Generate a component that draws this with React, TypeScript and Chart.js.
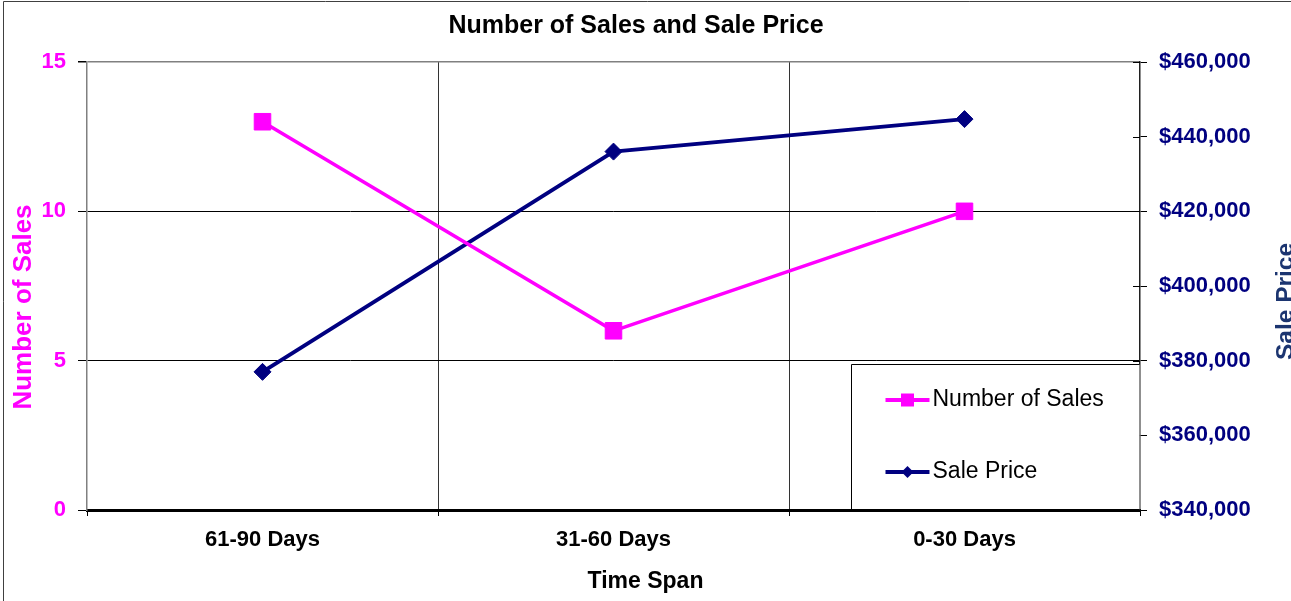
import React, { useEffect, useRef } from 'react';
import { Chart, registerables } from 'chart.js';

Chart.register(...registerables);

// ---- data ----
const categories = ['61-90 Days', '31-60 Days', '0-30 Days'];
const numberOfSales = [13, 6, 10];
const salePrice = [377000, 436000, 444700];
const salesAxisMin = 0;
const salesAxisMax = 15;
const salesAxisStep = 5;
const priceAxisMin = 340000;
const priceAxisMax = 460000;
const priceAxisStep = 20000;
const chartTitle = 'Number of Sales and Sale Price';
const xAxisTitle = 'Time Span';
const yAxisTitle = 'Number of Sales';
const y1AxisTitle = 'Sale Price';

const FONT = '"Liberation Sans", Arial, sans-serif';
const MAGENTA = '#FF00FF';
const NAVY = '#000080';
const NAVY_TITLE = '#1c3570';

const decorPlugin = {
  id: 'decor',
  afterDraw(chart: any) {
    const ctx: CanvasRenderingContext2D = chart.ctx;
    const ca = chart.chartArea;
    ctx.save();

    // outer frame (left + top)
    ctx.strokeStyle = '#404040';
    ctx.lineWidth = 1;
    ctx.beginPath();
    ctx.moveTo(3.5, chart.height);
    ctx.lineTo(3.5, 1.5);
    ctx.lineTo(chart.width, 1.5);
    ctx.stroke();

    // inner half of right-axis tick marks
    const y1 = chart.scales.y1;
    ctx.strokeStyle = '#000';
    ctx.lineWidth = 1;
    y1.ticks.forEach((t: any) => {
      const py = Math.round(y1.getPixelForValue(t.value)) + 0.5;
      ctx.beginPath();
      ctx.moveTo(ca.right - 7, py);
      ctx.lineTo(ca.right, py);
      ctx.stroke();
    });

    // main title
    ctx.fillStyle = '#000';
    ctx.font = `bold 25px ${FONT}`;
    ctx.textAlign = 'center';
    ctx.textBaseline = 'alphabetic';
    ctx.fillText(chartTitle, 636, 33);

    // x axis title
    ctx.font = `bold 23px ${FONT}`;
    ctx.fillText(xAxisTitle, 645.5, 588);

    // left axis title
    ctx.save();
    ctx.translate(31, 307);
    ctx.rotate(-Math.PI / 2);
    ctx.fillStyle = MAGENTA;
    ctx.font = `bold 26px ${FONT}`;
    ctx.fillText(yAxisTitle, 0, 0);
    ctx.restore();

    // right axis title
    ctx.save();
    ctx.translate(1292.5, 301.5);
    ctx.rotate(-Math.PI / 2);
    ctx.fillStyle = NAVY_TITLE;
    ctx.font = `bold 24.5px ${FONT}`;
    ctx.fillText(y1AxisTitle, 0, 0);
    ctx.restore();

    // legend box
    const x0 = Math.round(ca.right - 289) + 0.5;
    const y0 = Math.round(ca.top + 302) + 0.5;
    const x1 = Math.round(ca.right) - 0.5;
    const yb = Math.round(ca.bottom) - 1;
    ctx.fillStyle = '#fff';
    ctx.fillRect(x0, y0, x1 - x0, yb - y0);
    ctx.strokeStyle = '#000';
    ctx.lineWidth = 1;
    ctx.beginPath();
    ctx.moveTo(x0, yb);
    ctx.lineTo(x0, y0);
    ctx.lineTo(x1, y0);
    ctx.stroke();

    chart.data.datasets.forEach((ds: any, i: number) => {
      const ly = ca.top + 338 + i * 72;
      const lx0 = x0 + 34;
      const lx1 = x0 + 78;
      const mx = (lx0 + lx1) / 2;
      ctx.strokeStyle = ds.borderColor;
      ctx.lineWidth = 4;
      ctx.beginPath();
      ctx.moveTo(lx0, ly);
      ctx.lineTo(lx1, ly);
      ctx.stroke();
      ctx.fillStyle = ds.borderColor;
      ctx.beginPath();
      if (ds.pointStyle === 'rect') {
        ctx.rect(mx - 6.5, ly - 6.5, 13, 13);
      } else {
        const r = 6;
        ctx.moveTo(mx - r, ly);
        ctx.lineTo(mx, ly - r);
        ctx.lineTo(mx + r, ly);
        ctx.lineTo(mx, ly + r);
        ctx.closePath();
      }
      ctx.fill();
      ctx.fillStyle = '#000';
      ctx.font = `23px ${FONT}`;
      ctx.textAlign = 'left';
      ctx.textBaseline = 'middle';
      ctx.fillText(ds.label, x0 + 81, ly);
    });

    ctx.restore();
  },
};

export default function App() {
  const ref = useRef<HTMLCanvasElement>(null);

  useEffect(() => {
    if (!ref.current) return;
    const chart = new Chart(ref.current, {
      type: 'line',
      data: {
        labels: categories,
        datasets: [
          {
            label: 'Number of Sales',
            data: numberOfSales,
            yAxisID: 'y',
            borderColor: MAGENTA,
            backgroundColor: MAGENTA,
            borderWidth: 3.5,
            pointStyle: 'rect',
            pointRadius: 11.7,
            pointBorderWidth: 1,
            pointBackgroundColor: MAGENTA,
            pointBorderColor: MAGENTA,
            tension: 0,
          },
          {
            label: 'Sale Price',
            data: salePrice,
            yAxisID: 'y1',
            borderColor: NAVY,
            backgroundColor: NAVY,
            borderWidth: 4,
            pointStyle: 'rectRot',
            pointRadius: 8.5,
            pointBorderWidth: 1,
            pointBackgroundColor: NAVY,
            pointBorderColor: NAVY,
            tension: 0,
          },
        ],
      },
      options: {
        animation: false,
        responsive: false,
        maintainAspectRatio: false,
        layout: { padding: { top: 62, left: 0, right: 0, bottom: 0 } },
        plugins: {
          legend: { display: false },
          title: { display: false },
          tooltip: { enabled: false },
        },
        scales: {
          x: {
            type: 'category',
            offset: true,
            grid: {
              offset: true,
              drawOnChartArea: true,
              color: (c: any) => (c.type === 'tick' && c.index > 0 ? '#333' : 'rgba(0,0,0,0)'),
              tickColor: '#000',
              tickLength: 6,
              lineWidth: 1,
            },
            border: { color: '#000', width: 3 },
            ticks: {
              color: '#000',
              font: { family: FONT, size: 22, weight: 'bold' },
              padding: 11,
              maxRotation: 0,
              autoSkip: false,
            },
            afterFit: (s: any) => {
              s.height = 91;
            },
          },
          y: {
            type: 'linear',
            position: 'left',
            min: salesAxisMin,
            max: salesAxisMax,
            ticks: {
              stepSize: salesAxisStep,
              color: MAGENTA,
              font: { family: FONT, size: 22, weight: 'bold' },
              padding: 12,
            },
            grid: {
              color: (c: any) => (c.tick && c.tick.value === salesAxisMax ? '#808080' : '#000'),
              lineWidth: (c: any) => (c.tick && c.tick.value === salesAxisMax ? 1.5 : 1),
              tickColor: '#000',
              tickLength: 9,
            },
            border: { color: '#808080', width: 1.5 },
            afterFit: (s: any) => {
              s.width = 87;
            },
          },
          y1: {
            type: 'linear',
            position: 'right',
            min: priceAxisMin,
            max: priceAxisMax,
            ticks: {
              stepSize: priceAxisStep,
              color: NAVY,
              font: { family: FONT, size: 22, weight: 'bold' },
              padding: 12,
              callback: (v: any) => '$' + Number(v).toLocaleString('en-US'),
            },
            grid: {
              drawOnChartArea: false,
              tickColor: '#000',
              tickLength: 7,
            },
            border: { color: '#202020', width: 1.5 },
            afterFit: (s: any) => {
              s.width = 151;
            },
          },
        },
      } as any,
      plugins: [decorPlugin],
    });
    return () => chart.destroy();
  }, []);

  return (
    <div style={{ position: 'absolute', left: 0, top: 0, width: 1291, height: 601, background: '#fff' }}>
      <canvas ref={ref} width={1291} height={601} style={{ display: 'block' }} />
    </div>
  );
}
